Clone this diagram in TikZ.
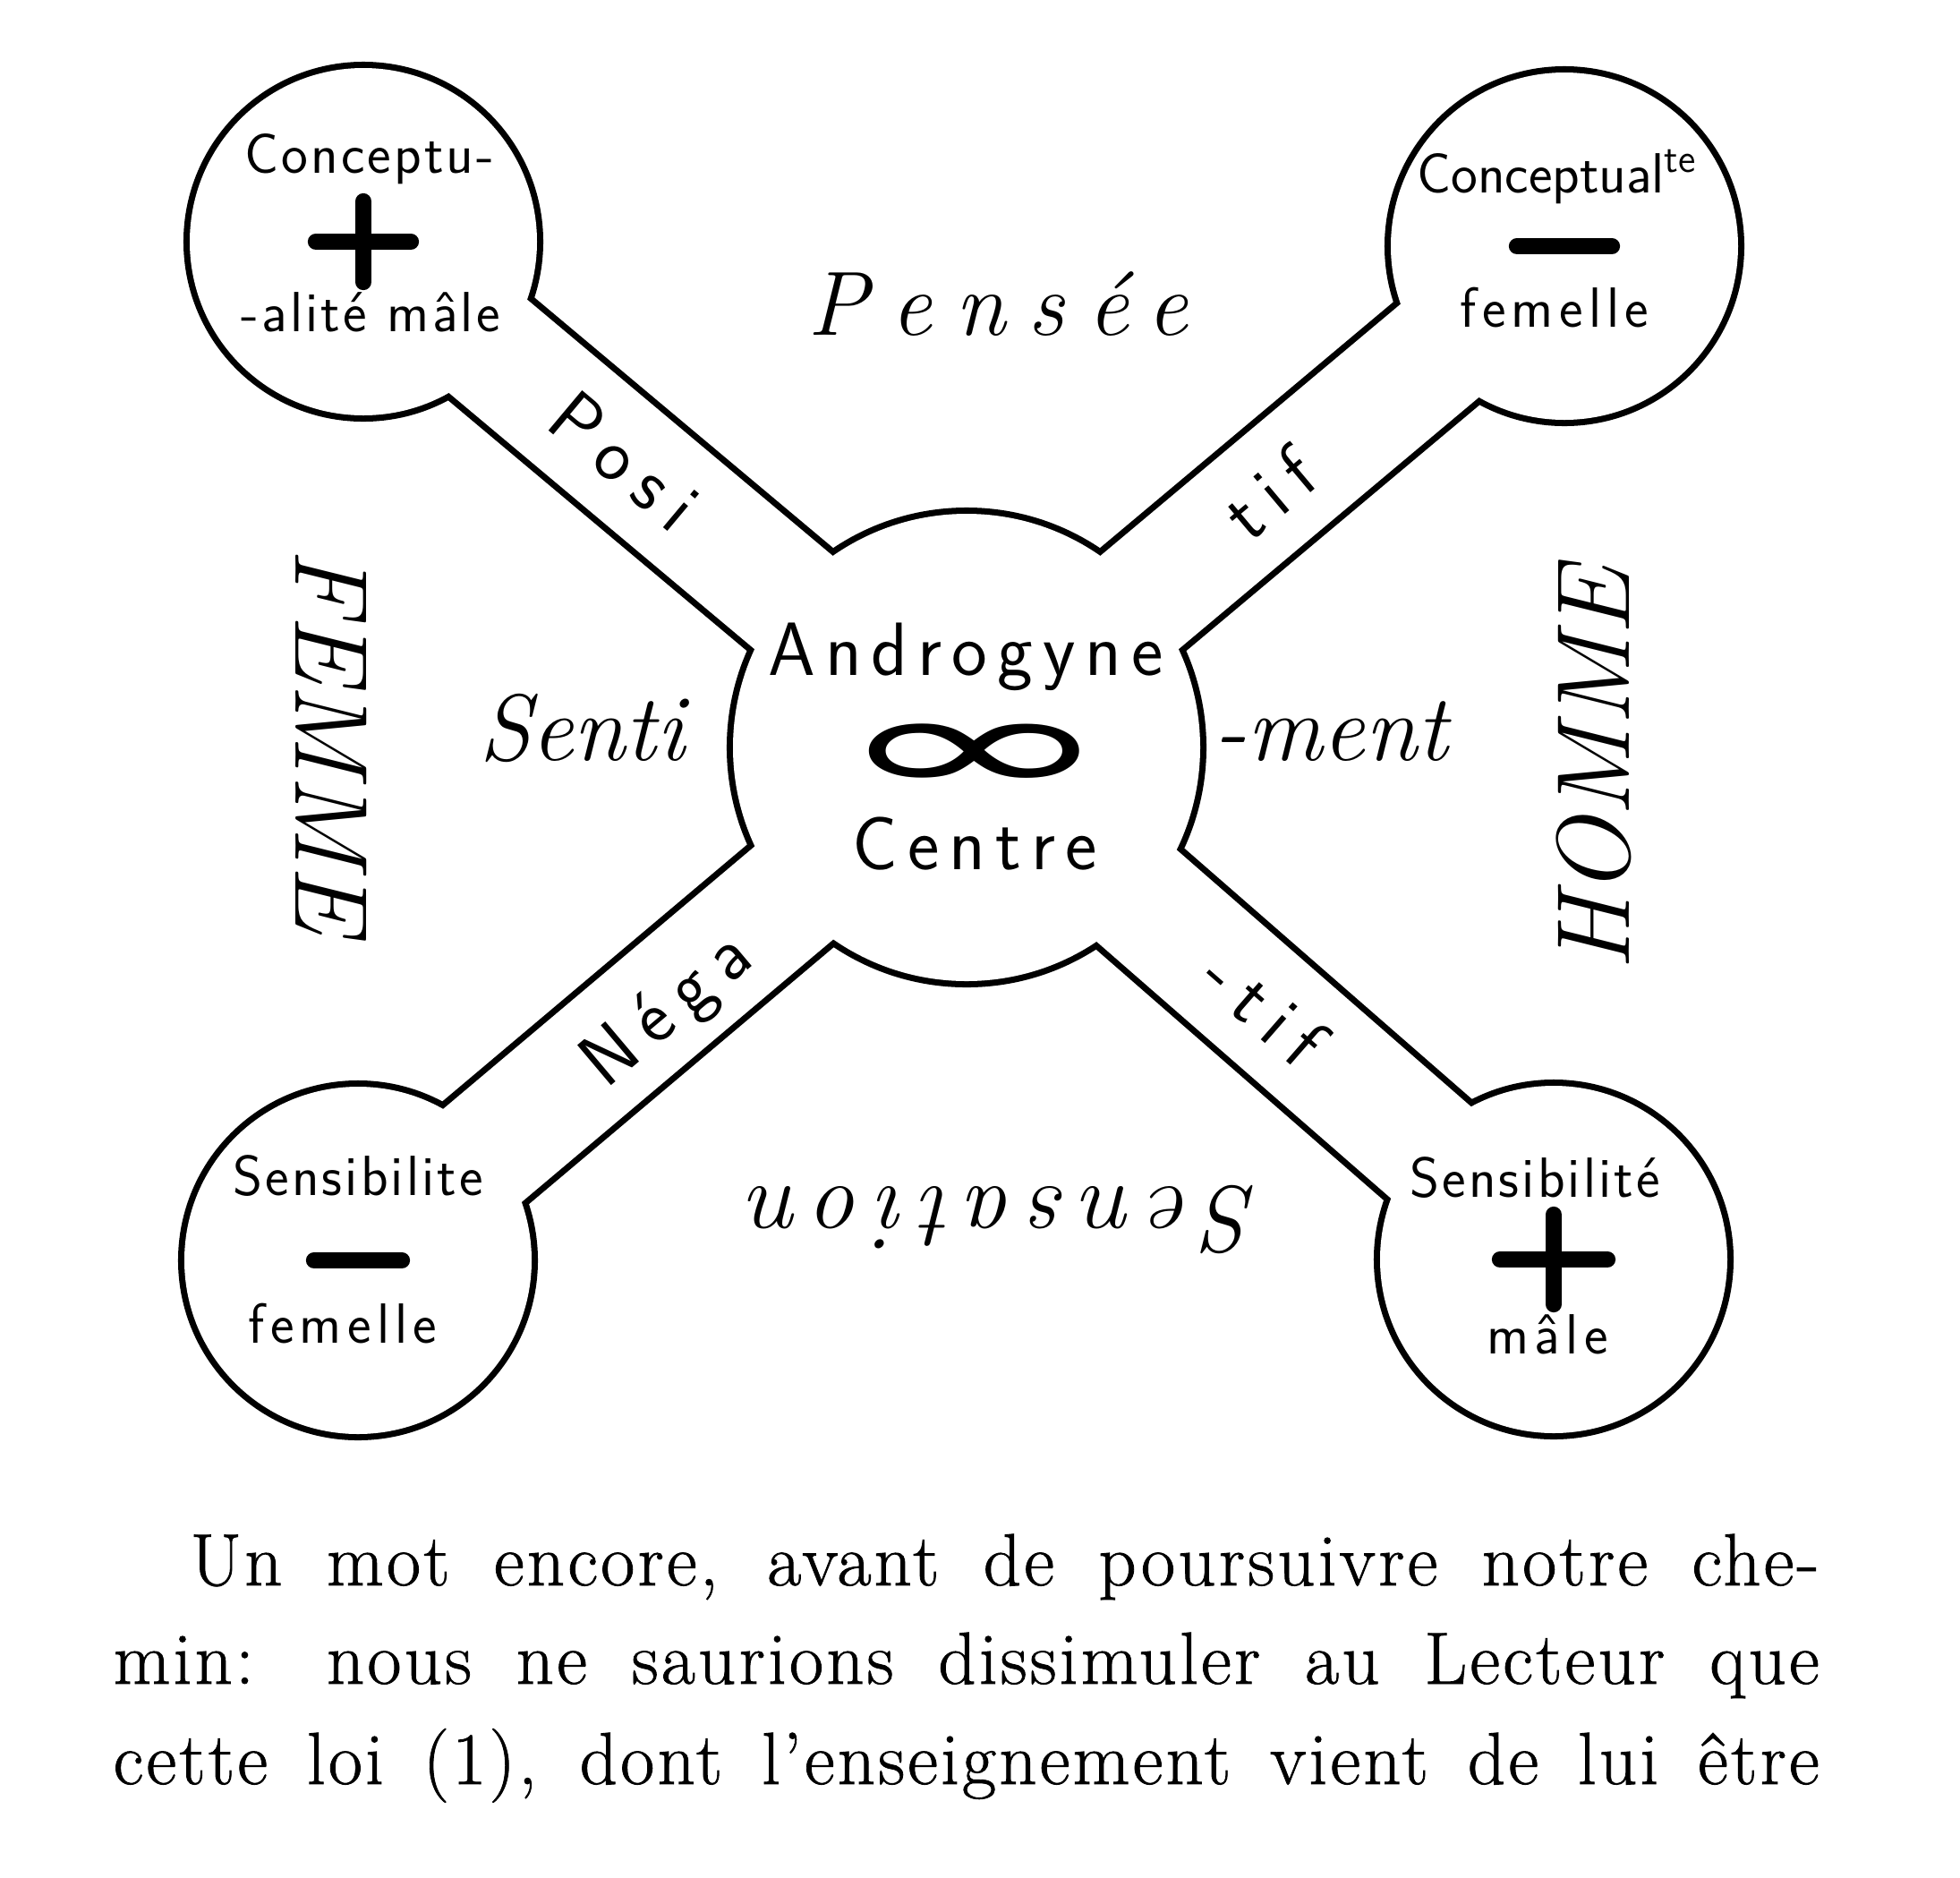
\documentclass[tikz,border=0pt]{standalone}
\usepackage{fontspec}
\setmainfont{Latin Modern Roman}
\setsansfont{Latin Modern Sans}
\newfontfamily\symbolfont{DejaVu Sans}
\usetikzlibrary{positioning}

\begin{document}
\begin{tikzpicture}[
  ball/.style={circle, draw, line width=4pt, inner sep=0pt, minimum size=3.88cm},
  hub/.style={circle, draw, line width=4pt, inner sep=0pt, minimum size=5.22cm},
  bandrim/.style={line width=1.36cm+4pt},
  bandfill/.style={white, line width=1.36cm},
  signstroke/.style={line width=5.2pt, line cap=round},
  balltext/.style={font=\sffamily\fontsize{18}{18}\selectfont\addfontfeature{LetterSpace=10}, inner sep=0pt, anchor=base},
  balltight/.style={balltext, font=\sffamily\fontsize{18}{18}\selectfont\addfontfeature{LetterSpace=5}},
  hubtext/.style={font=\sffamily\fontsize{24}{24}\selectfont\addfontfeature{LetterSpace=13}, inner sep=0pt, anchor=base},
  bandlabel/.style={font=\sffamily\fontsize{24}{24}\selectfont\addfontfeature{LetterSpace=20}, sloped, inner sep=0pt},
  bigword/.style={font=\itshape\fontsize{30}{30}\selectfont, inner sep=0pt},
  prose/.style={font=\fontsize{23.5}{23.5}\selectfont\addfontfeature{LetterSpace=4, FakeBold=1}, inner sep=0pt, anchor=base west}
]

  % page
  \path[fill=white] (0,0) rectangle (21.9,-20.98);

  % the five circles (rims first)
  \node[ball] (tl) at (4.06,-2.70) {};
  \node[ball] (tr) at (17.48,-2.75) {};
  \node[ball] (bl) at (4.00,-14.08) {};
  \node[ball] (br) at (17.36,-14.07) {};
  \node[hub] (c) at (10.80,-8.35) {};

  % bands to the centre
  \foreach \n in {tl,tr,bl,br}
    \draw[bandrim] (\n.center) -- (c.center);

  % white inside, so that only the outline is left
  \foreach \n in {tl,tr,bl,br}
    \fill[white] (\n.center) circle (1.94cm);
  \fill[white] (c.center) circle (2.61cm);
  \foreach \n in {tl,tr,bl,br}
    \draw[bandfill] (\n.center) -- (c.center);

  % labels along the bands
  \path (tl.center) -- (c.center) node[bandlabel, pos=0.433] (posi) {Posi};
  \path (c.center) -- (tr.center) node[bandlabel, pos=0.506] (tif) {tif};
  \path (bl.center) -- (c.center) node[bandlabel, pos=0.5, yshift=-0.12cm] (nega) {Néga};
  \path (c.center) -- (br.center) node[bandlabel, pos=0.508] (tifb) {-tif};

  % top left
  \draw[signstroke] ([xshift=-0.53cm]tl.center) -- ([xshift=0.53cm]tl.center);
  \draw[signstroke] ([yshift=0.45cm]tl.center) -- ([yshift=-0.45cm]tl.center);
  \node[balltight] (tlup) at ([xshift=0.07cm, yshift=0.77cm]tl.center) {Conceptu-};
  \node[balltight] (tldown) at ([xshift=0.08cm, yshift=-1.00cm]tl.center) {-alité mâle};

  % top right
  \draw[signstroke] ([xshift=-0.53cm]tr.center) -- ([xshift=0.53cm]tr.center);
  \node[balltext, font=\sffamily\fontsize{18}{18}\selectfont] (trup)
    at ([xshift=-0.08cm, yshift=0.60cm]tr.center) {Conceptual\textsuperscript{te}};
  \node[balltext] (trdown) at ([xshift=-0.11cm, yshift=-0.90cm]tr.center) {femelle};

  % bottom left
  \draw[signstroke] ([xshift=-0.49cm]bl.center) -- ([xshift=0.49cm]bl.center);
  \node[balltight] (blup) at ([yshift=0.73cm]bl.center) {Sensibilite};
  \node[balltext] (bldown) at ([xshift=-0.17cm, yshift=-0.92cm]bl.center) {femelle};

  % bottom right
  \draw[signstroke] ([xshift=-0.60cm]br.center) -- ([xshift=0.60cm]br.center);
  \draw[signstroke] ([yshift=0.50cm]br.center) -- ([yshift=-0.50cm]br.center);
  \node[balltight] (brup) at ([xshift=-0.21cm, yshift=0.70cm]br.center) {Sensibilité};
  \node[balltext] (brdown) at ([xshift=-0.07cm, yshift=-1.05cm]br.center) {mâle};

  % centre
  \node[hubtext] (andro) at ([xshift=-0.01cm, yshift=0.81cm]c.center) {Androgyne};
  \node[font=\symbolfont\fontsize{46}{46}\selectfont, xscale=2.35, inner sep=0pt] (inf)
    at ([xshift=0.09cm, yshift=-0.13cm]c.center) {∞};
  \node[hubtext] (centre) at ([xshift=0.09cm, yshift=-1.36cm]c.center) {Centre};

  % the big words
  \node[bigword, anchor=base, font=\itshape\fontsize{29}{29}\selectfont\addfontfeature{LetterSpace=25}] (pensee) at (11.15,-3.74) {Pensée};
  \node[bigword, anchor=base] (senti) at (6.50,-8.49) {Senti};
  \node[bigword, anchor=base] (ment) at (14.87,-8.49) {-ment};
  \node[bigword, rotate=180, font=\itshape\fontsize{30}{30}\selectfont\addfontfeature{LetterSpace=16}] (sensation) at (11.23,-13.62) {Sensation};
  \node[bigword, rotate=-90, font=\itshape\fontsize{33}{33}\selectfont] (femme) at (3.70,-8.28) {FEMME};
  \node[bigword, rotate=90, font=\itshape\fontsize{33}{33}\selectfont] (homme) at (17.81,-8.59) {HOMME};

  % text under the figure
  \node[prose] (line1) at (2.12,-17.71) {\makebox[18.20cm][s]{Un mot encore, avant de poursuivre notre che-}};
  \node[prose] (line2) at (1.26,-18.81) {\makebox[19.06cm][s]{min: nous ne saurions dissimuler au Lecteur que}};
  \node[prose] (line3) at (1.26,-19.93) {\makebox[19.06cm][s]{cette loi (1), dont l’enseignement vient de lui être}};

\end{tikzpicture}
\end{document}
